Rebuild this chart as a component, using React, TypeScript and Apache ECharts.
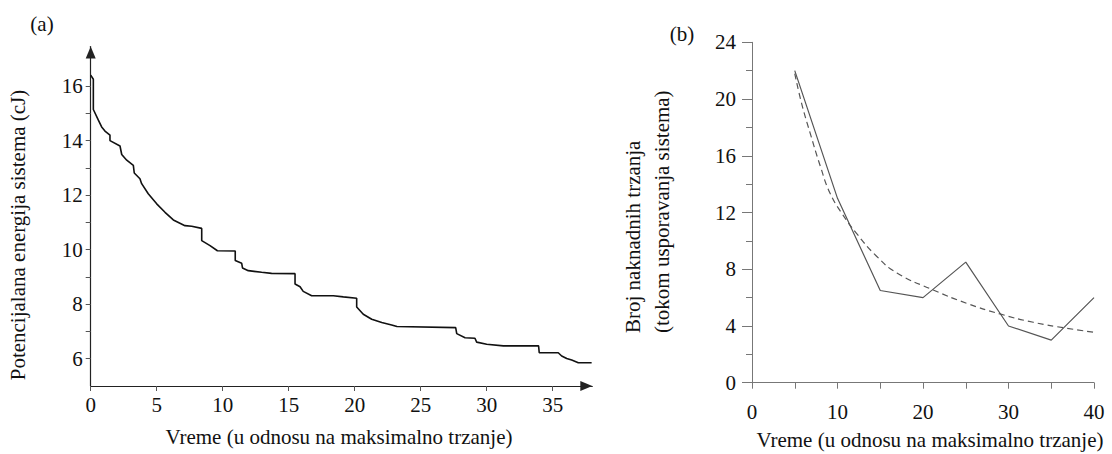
import React, { useEffect, useRef } from "react";
import * as echarts from "echarts";

// (a) potential energy step curve: [time, energy]
const energyTime = [0, 0.2, 0.2, 0.58, 0.83, 1.08, 1.46, 1.46, 2.22, 2.35, 2.73, 3.23, 3.3, 3.73, 3.86, 4.36, 5.0, 5.63, 6.26, 7.14, 7.65, 8.41, 8.41, 9.04, 9.6, 10.95, 10.95, 11.44, 11.5, 11.94, 12.95, 13.7, 15.48, 15.48, 15.86, 16.1, 16.74, 18.38, 19.14, 20.15, 20.15, 20.65, 21.29, 22.05, 22.8, 23.2, 27.65, 27.73, 28.36, 29.11, 29.24, 30.0, 31.26, 33.93, 33.98, 35.42, 35.68, 36.06, 36.44, 36.94, 37.95];
const energyValue = [16.4, 16.25, 15.14, 14.75, 14.5, 14.35, 14.2, 14.0, 13.8, 13.49, 13.28, 13.09, 12.81, 12.6, 12.42, 12.05, 11.68, 11.37, 11.09, 10.88, 10.86, 10.78, 10.33, 10.15, 9.96, 9.95, 9.6, 9.5, 9.33, 9.23, 9.17, 9.13, 9.12, 8.74, 8.64, 8.47, 8.31, 8.31, 8.27, 8.22, 7.9, 7.63, 7.45, 7.33, 7.24, 7.18, 7.14, 6.92, 6.77, 6.75, 6.61, 6.53, 6.47, 6.47, 6.22, 6.22, 6.1, 6.01, 5.95, 5.85, 5.85];

// (b) aftershock counts
const countTime = [5, 10, 15, 20, 25, 30, 35, 40];
const countValue = [22, 13, 6.5, 6, 8.5, 4, 3, 6];
// (b) fitted dashed curve
const fitTime = [5, 5.8, 6.8, 8, 9.1, 10.5, 12.2, 14.6, 17, 21.2, 25.1, 29, 32.9, 36.8, 40];
const fitValue = [21.8, 19.7, 17.6, 15.25, 13.4, 11.95, 10.55, 8.9, 7.72, 6.54, 5.6, 4.85, 4.26, 3.84, 3.56];

const leftYTicks = [6, 7, 8, 9, 10, 11, 12, 13, 14, 15, 16];
const leftYLabels = [6, 8, 10, 12, 14, 16];

const titleX = "Vreme (u odnosu na maksimalno trzanje)";
const titleYLeft = "Potencijalana energija sistema (cJ)";
const titleYRight1 = "Broj naknadnih trzanja";
const titleYRight2 = "(tokom usporavanja sistema)";

const FONT = "Liberation Serif";

export default function App() {
  const ref = useRef<HTMLDivElement>(null);
  useEffect(() => {
    if (!ref.current) return;
    const chart = echarts.init(ref.current, null, { renderer: "svg" });
    const pair = (xs: number[], ys: number[]) => xs.map((x, i) => [x, ys[i]]);
    const labelStyle = { color: "#111", fontFamily: FONT, fontSize: 21 };
    const txt = (text: string, x: number, y: number, align: string, rotation = 0) => ({
      type: "text",
      x,
      y,
      rotation,
      style: {
        text,
        fontFamily: FONT,
        fontSize: 21,
        fill: "#111",
        textAlign: align,
        textVerticalAlign: "middle",
      },
    });
    chart.setOption({
      animation: false,
      backgroundColor: "#fff",
      grid: [
        { left: 90.7, top: 46.5, width: 501.6, height: 339.5 },
        { left: 752, top: 42.3, width: 342, height: 340.4 },
      ],
      xAxis: [
        {
          gridIndex: 0,
          type: "value",
          min: 0,
          max: 38,
          interval: 5,
          splitLine: { show: false },
          axisLine: {
            lineStyle: { color: "#222", width: 1.2 },
            symbol: ["none", "triangle"],
            symbolSize: [10, 12],
            symbolOffset: [0, -6],
          },
          axisTick: { length: 5, lineStyle: { color: "#555" } },
          axisLabel: { ...labelStyle, margin: 8, showMaxLabel: false },
        },
        {
          gridIndex: 1,
          type: "value",
          min: 0,
          max: 40,
          interval: 10,
          splitLine: { show: false },
          axisLine: { lineStyle: { color: "#777", width: 1 } },
          axisTick: { length: 6, lineStyle: { color: "#777" } },
          minorTick: { show: true, splitNumber: 2, length: 6, lineStyle: { color: "#777" } },
          axisLabel: { ...labelStyle, margin: 19 },
        },
      ],
      yAxis: [
        {
          gridIndex: 0,
          type: "value",
          min: 5,
          max: 17.45,
          interval: 1,
          splitLine: { show: false },
          axisLine: {
            lineStyle: { color: "#222", width: 1.2 },
            symbol: ["none", "triangle"],
            symbolSize: [10, 12],
            symbolOffset: [0, -6],
          },
          axisTick: { length: 5, customValues: leftYTicks, lineStyle: { color: "#555" } },
          axisLabel: {
            ...labelStyle,
            margin: 8,
            customValues: leftYLabels,
            formatter: (v: number) => (v % 2 === 0 && v >= 6 && v <= 16 ? String(v) : ""),
          },
        },
        {
          gridIndex: 1,
          type: "value",
          min: 0,
          max: 24,
          interval: 4,
          splitLine: { show: false },
          axisLine: { lineStyle: { color: "#777", width: 1 } },
          axisTick: { length: 10, lineStyle: { color: "#777" } },
          minorTick: { show: true, splitNumber: 2, length: 6, lineStyle: { color: "#777" } },
          axisLabel: { ...labelStyle, margin: 16 },
        },
      ],
      series: [
        {
          type: "line",
          xAxisIndex: 0,
          yAxisIndex: 0,
          data: pair(energyTime, energyValue),
          showSymbol: false,
          clip: false,
          lineStyle: { color: "#111", width: 1.6 },
        },
        {
          type: "line",
          xAxisIndex: 1,
          yAxisIndex: 1,
          data: pair(countTime, countValue),
          showSymbol: false,
          lineStyle: { color: "#555", width: 1.2 },
        },
        {
          type: "line",
          xAxisIndex: 1,
          yAxisIndex: 1,
          data: pair(fitTime, fitValue),
          showSymbol: false,
          smooth: true,
          lineStyle: { color: "#555", width: 1.2, type: [6, 4] },
        },
      ],
      graphic: [
        txt("(a)", 42, 24, "center"),
        txt("(b)", 682, 34, "center"),
        txt(titleX, 339, 437, "center"),
        txt(titleX, 930, 440, "center"),
        txt(titleYLeft, 18, 235, "center", Math.PI / 2),
        txt(titleYRight1, 633, 333, "left", Math.PI / 2),
        txt(titleYRight2, 662, 333, "left", Math.PI / 2),
      ],
    });
    return () => chart.dispose();
  }, []);
  return (
    <div
      ref={ref}
      style={{ position: "fixed", left: 0, top: 0, width: 1112, height: 454, background: "#fff" }}
    />
  );
}
